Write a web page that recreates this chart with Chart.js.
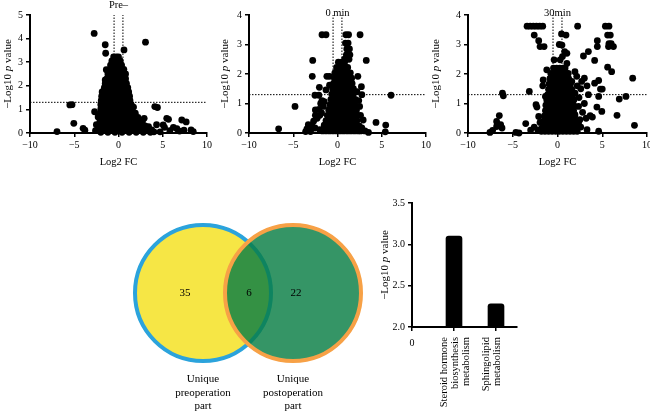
<!DOCTYPE html>
<html>
<head>
<meta charset="utf-8">
<script src="https://cdn.jsdelivr.net/npm/chart.js@4.4.0/dist/chart.umd.min.js"></script>
<style>
  html, body { margin: 0; padding: 0; background: #fff; }
  #fig { position: relative; width: 650px; height: 411px; overflow: hidden; }
  #fig canvas { position: absolute; }
</style>
</head>
<body>
<div id="fig">
  <canvas id="volPre" width="215" height="170" style="left:0;top:0"></canvas>
  <canvas id="vol0" width="220" height="170" style="left:215px;top:0"></canvas>
  <canvas id="vol30" width="230" height="170" style="left:430px;top:0"></canvas>
  <canvas id="venn" width="240" height="211" style="left:130px;top:200px"></canvas>
  <canvas id="bars" width="200" height="221" style="left:360px;top:190px"></canvas>
</div>
<script>
// ---- data ----
const volcanoTitles = ['Pre\u2013', '0 min', '30min'];
const pCutoff = 1.3;
const fcCutoffs = [-0.5, 0.5];

// scattered points, [log2 FC, -log10 p]
const preOutliers = [
  [-2.75,4.22],[3.05,3.85],[-1.5,3.74],[0.62,3.52],[-1.45,3.38],[-1.38,2.68],[-1.0,2.4],[-1.5,2.25],
  [-1.65,1.82],[-1.4,1.82],[-5.5,1.19],[-5.25,1.2],[-5.05,0.41],[-6.95,0.06],[-4.0,0.2],[-3.8,0.12],
  [-2.7,0.9],[-2.3,0.68],[-1.95,0.12],[-2.5,0.35],[-2.6,0.1],[4.1,1.12],[4.4,1.08],[1.7,1.1],
  [2.9,0.62],[5.45,0.62],[5.65,0.58],[7.15,0.55],[7.65,0.47],[5.05,0.34],[5.2,0.24],[6.2,0.24],
  [6.6,0.18],[8.2,0.13],[8.45,0.06],[3.4,0.27],[3.75,0.13],[2.45,0.41],[2.6,0.27],[1.5,0.55],
  [1.85,0.41],[4.0,0.05],[4.7,0.05],[5.8,0.1],[6.9,0.08],[7.4,0.12],[4.3,0.35],[3.1,0.1],
  [2.2,0.15],[1.3,0.8],[1.6,0.3]
];
// dense core, read row by row: [-log10 p, [log2 FC ...]]
const preCore = [
  [3.22, [-0.55,-0.25,0.0]],
  [3.05, [-0.75,-0.4,-0.05,0.2]],
  [2.88, [-0.9,-0.55,-0.2,0.15,0.35]],
  [2.7,  [-1.0,-0.65,-0.3,0.05,0.4,0.6]],
  [2.5,  [-1.2,-0.85,-0.5,-0.15,0.2,0.55,0.8]],
  [2.3,  [-1.3,-0.95,-0.6,-0.25,0.1,0.45,0.8]],
  [2.1,  [-1.5,-1.1,-0.7,-0.3,0.1,0.5,0.9]],
  [1.92, [-1.6,-1.2,-0.8,-0.4,0.0,0.4,0.8,1.05]],
  [1.74, [-1.85,-1.45,-1.05,-0.65,-0.25,0.15,0.55,0.95,1.15]],
  [1.56, [-1.9,-1.5,-1.1,-0.7,-0.3,0.1,0.5,0.9,1.25]],
  [1.38, [-1.95,-1.55,-1.15,-0.75,-0.35,0.05,0.45,0.85,1.3]],
  [1.2,  [-2.0,-1.6,-1.2,-0.8,-0.4,0.0,0.4,0.8,1.2,1.45]],
  [1.02, [-2.0,-1.6,-1.2,-0.8,-0.4,0.0,0.4,0.8,1.2,1.5]],
  [0.84, [-2.05,-1.65,-1.25,-0.85,-0.45,-0.05,0.35,0.75,1.15,1.55,1.9]],
  [0.66, [-2.1,-1.7,-1.3,-0.9,-0.5,-0.1,0.3,0.7,1.1,1.5,1.9,2.2]],
  [0.48, [-2.1,-1.7,-1.3,-0.9,-0.5,-0.1,0.3,0.7,1.1,1.5,1.9,2.3,2.7]],
  [0.3,  [-2.2,-1.8,-1.4,-1.0,-0.6,-0.2,0.2,0.6,1.0,1.4,1.8,2.2,2.6,3.0]],
  [0.12, [-2.3,-1.9,-1.5,-1.1,-0.7,-0.3,0.1,0.5,0.9,1.3,1.7,2.1,2.5,2.9,3.3]],
  [0.03, [-2.0,-1.2,-0.4,0.4,1.2,2.0,2.8,3.6]]
];

const min0Outliers = [
  [-1.75,3.33],[-1.3,3.33],[0.95,3.33],[1.25,3.33],[2.55,3.33],[0.9,3.05],[1.2,3.05],[1.05,2.85],
  [1.35,2.85],[1.0,2.65],[1.4,2.65],[0.8,2.5],[1.3,2.5],[-2.8,2.46],[3.25,2.46],[-2.85,1.92],
  [-1.2,1.92],[-0.9,1.92],[2.3,1.92],[-0.05,2.14],[-2.05,1.55],[2.7,1.57],[-2.55,1.28],[-2.1,1.28],
  [-1.3,1.46],[-0.9,1.62],[2.2,1.4],[-1.75,1.1],[-1.5,1.06],[2.75,1.3],[6.05,1.28],[-4.8,0.9],
  [-2.5,0.78],[-2.1,0.8],[-2.3,0.5],[-2.7,0.4],[-2.5,0.6],[-2.0,0.6],[-1.8,0.68],[-1.6,0.9],
  [-1.9,1.0],[-6.65,0.14],[-3.45,0.14],[-3.05,0.21],[-3.05,0.05],[-3.3,0.28],[-2.9,0.25],[-3.6,0.05],
  [-2.55,0.17],[-2.0,0.11],[-1.5,0.27],[-1.45,0.1],[2.9,0.44],[4.35,0.36],[5.45,0.27],[5.4,0.04],
  [3.5,0.02],[2.75,0.17],[3.1,0.07],[2.6,0.6],[2.5,0.9],[2.4,1.1]
];
const min0Core = [
  [2.4,  [0.1,0.45,0.8]],
  [2.22, [-0.1,0.25,0.6,0.95,1.15]],
  [2.04, [-0.3,0.05,0.4,0.75,1.1,1.45]],
  [1.86, [-0.35,0.0,0.35,0.7,1.05,1.4,1.6]],
  [1.68, [-0.45,-0.1,0.25,0.6,0.95,1.3,1.65]],
  [1.5,  [-0.55,-0.2,0.15,0.5,0.85,1.2,1.55,1.8]],
  [1.32, [-0.65,-0.3,0.05,0.4,0.75,1.1,1.45,1.8]],
  [1.14, [-0.75,-0.4,-0.05,0.3,0.65,1.0,1.35,1.7,2.0]],
  [0.96, [-0.85,-0.5,-0.15,0.2,0.55,0.9,1.25,1.6,1.95]],
  [0.78, [-1.0,-0.6,-0.25,0.1,0.45,0.8,1.15,1.5,1.85,2.15]],
  [0.6,  [-1.15,-0.8,-0.45,-0.1,0.25,0.6,0.95,1.3,1.65,2.0,2.3]],
  [0.42, [-1.3,-0.95,-0.6,-0.25,0.1,0.45,0.8,1.15,1.5,1.85,2.2]],
  [0.24, [-1.5,-1.1,-0.7,-0.3,0.1,0.5,0.9,1.3,1.7,2.1,2.45]],
  [0.07, [-1.7,-1.3,-0.9,-0.5,-0.1,0.3,0.7,1.1,1.5,1.9,2.3,2.6]]
];

const min30Outliers = [
  [-3.4,3.62],[-3.05,3.62],[-2.7,3.62],[-2.35,3.62],[-2.0,3.62],[-1.65,3.62],[2.25,3.62],[5.35,3.62],
  [5.75,3.62],[-2.6,3.32],[-2.1,3.13],[-1.95,2.93],[-1.5,2.93],[0.45,3.36],[0.95,3.32],[0.2,3.0],
  [0.5,2.98],[0.8,2.76],[0.55,2.59],[1.05,2.7],[-0.38,2.48],[0.3,2.48],[1.05,2.36],[0.65,2.16],
  [-1.2,2.14],[-1.6,1.8],[5.6,3.32],[5.9,3.32],[5.75,3.03],[6.0,3.03],[5.7,2.93],[6.25,2.93],
  [4.45,3.13],[4.45,2.93],[3.45,2.76],[2.9,2.61],[4.15,2.46],[5.6,2.23],[6.05,2.08],[8.4,1.86],
  [4.6,1.78],[4.15,1.69],[3.0,1.86],[4.8,1.49],[5.0,1.49],[3.45,1.3],[4.6,1.24],[6.9,1.15],
  [7.65,1.24],[4.4,0.88],[4.95,0.73],[3.65,0.59],[3.9,0.54],[6.65,0.6],[8.6,0.26],[3.3,0.11],
  [4.6,0.06],[2.5,0.45],[2.35,0.34],[1.95,2.08],[2.15,1.92],[1.6,1.75],[1.4,1.52],[1.95,1.35],
  [1.8,1.13],[2.35,0.9],[1.4,0.79],[1.95,0.62],[2.6,1.5],[2.4,1.2],[3.0,1.0],[2.8,0.7],
  [2.0,0.3],[2.6,0.2],[3.2,0.5],[2.7,1.75],[3.3,1.6],[2.2,1.6],[-6.15,1.35],[-6.05,1.26],
  [-6.5,0.59],[-6.8,0.39],[-6.35,0.28],[-6.8,0.22],[-6.2,0.17],[-7.25,0.09],[-7.55,0.02],[-4.65,0.02],
  [-4.3,0.0],[-3.55,0.32],[-3.15,1.41],[-2.4,0.96],[-2.3,0.88],[-2.1,0.56],[-1.95,0.36],[-1.65,1.6],
  [-1.35,1.24],[-2.6,0.2],[-2.2,0.1],[-1.8,0.15],[-3.0,0.1]
];
const min30Core = [
  [2.2,  [-0.45,-0.1,0.25,0.6,0.85]],
  [2.02, [-0.75,-0.4,-0.05,0.3,0.65,1.0,1.2]],
  [1.84, [-0.85,-0.5,-0.15,0.2,0.55,0.9,1.25]],
  [1.66, [-0.95,-0.6,-0.25,0.1,0.45,0.8,1.15,1.45]],
  [1.48, [-1.0,-0.65,-0.3,0.05,0.4,0.75,1.1,1.45,1.6]],
  [1.3,  [-1.1,-0.75,-0.4,-0.05,0.3,0.65,1.0,1.35,1.7]],
  [1.12, [-1.2,-0.85,-0.5,-0.15,0.2,0.55,0.9,1.25,1.6,1.8]],
  [0.94, [-1.3,-0.95,-0.6,-0.25,0.1,0.45,0.8,1.15,1.5,1.8]],
  [0.76, [-1.35,-1.0,-0.65,-0.3,0.05,0.4,0.75,1.1,1.45,1.8]],
  [0.58, [-1.45,-1.1,-0.75,-0.4,-0.05,0.3,0.65,1.0,1.35,1.7,1.9]],
  [0.4,  [-1.55,-1.2,-0.85,-0.5,-0.15,0.2,0.55,0.9,1.25,1.6,1.95]],
  [0.22, [-1.65,-1.3,-0.95,-0.6,-0.25,0.1,0.45,0.8,1.15,1.5,1.85,2.1]],
  [0.06, [-1.8,-1.4,-1.0,-0.6,-0.2,0.2,0.6,1.0,1.4,1.8,2.2]]
];

// Venn
const vennSets = [['Unique', 'preoperation', 'part'], ['Unique', 'postoperation', 'part']];
const vennCounts = [35, 6, 22]; // left only, shared, right only
const vennFills = ['#f6e645', 'rgba(8,126,68,0.82)'];
const vennStrokes = ['#2ba3dc', '#f7a146'];

// pathway bars
const pathwayLabels = [['Steroid hormone', 'biosynthesis', 'metabolism'], ['Sphingolipid', 'metabolism']];
const pathwayValues = [3.10, 2.28];

// ---- drawing ----
const serif = "'Liberation Serif', 'DejaVu Serif', serif";
Chart.defaults.font.family = serif;
Chart.defaults.color = '#000';
Chart.defaults.animation = false;
Chart.defaults.events = [];

const pairsToPoints = pairs => pairs.map(([x, y]) => ({x, y}));
const rowsToPoints = rows => rows.flatMap(([y, xs]) => xs.map(x => ({x, y})));
const minus = v => (v < 0 ? '\u2212' + Math.abs(v) : String(v));

function drawYTitle(ctx, x, y, size) {
    const parts = [
        {t: '\u2212Log10 ', s: 'normal'},
        {t: 'p', s: 'italic'},
        {t: ' value', s: 'normal'}
    ];
    ctx.save();
    ctx.translate(x, y);
    ctx.rotate(-Math.PI / 2);
    let total = 0;
    parts.forEach(p => {
        ctx.font = `${p.s} ${size}px ${serif}`;
        p.w = ctx.measureText(p.t).width;
        total += p.w;
    });
    ctx.textAlign = 'left';
    ctx.textBaseline = 'middle';
    let cx = -total / 2;
    parts.forEach(p => {
        ctx.font = `${p.s} ${size}px ${serif}`;
        ctx.fillText(p.t, cx, 0);
        cx += p.w;
    });
    ctx.restore();
}

// extra text: panel titles, y titles with italic p, venn counts, lone "0"
const figText = {
    id: 'figText',
    afterDraw(chart, args, o) {
        const ctx = chart.ctx;
        const a = chart.chartArea;
        ctx.save();
        ctx.fillStyle = '#000';
        ctx.textAlign = 'center';
        ctx.textBaseline = 'middle';
        if (o.title) {
            ctx.font = `10.5px ${serif}`;
            ctx.fillText(o.title, (a.left + a.right) / 2, o.titleY);
        }
        if (o.yTitleX != null) {
            drawYTitle(ctx, o.yTitleX, (a.top + a.bottom) / 2, 11);
        }
        if (o.counts) {
            const pts = chart.getDatasetMeta(0).data;
            const l = pts[0], r = pts[1];
            ctx.font = `11px ${serif}`;
            ctx.fillText(String(o.counts[0]), l.x - 18, l.y);
            ctx.fillText(String(o.counts[1]), (l.x + r.x) / 2 + 1, l.y);
            ctx.fillText(String(o.counts[2]), r.x + 3, l.y);
        }
        if (o.zeroLabel) {
            ctx.font = `10px ${serif}`;
            ctx.fillText('0', chart.scales.x.getPixelForValue(0), a.bottom + 16);
        }
        ctx.restore();
    }
};

const axisGrid = {drawOnChartArea: false, drawTicks: true, tickLength: 4, color: '#000', lineWidth: 1.5};
const axisBorder = {color: '#000', width: 2};

function volcano(id, cfg) {
    const dotted = {
        type: 'line', borderColor: '#000', borderWidth: 1, borderDash: [1.5, 1.5],
        pointRadius: 0, order: 2, clip: false
    };
    return new Chart(document.getElementById(id), {
        type: 'scatter',
        data: {
            datasets: [
                {data: cfg.points, backgroundColor: '#000', borderWidth: 0, pointRadius: 3.4, clip: false, order: 1},
                {...dotted, data: [{x: -10, y: pCutoff}, {x: 10, y: pCutoff}]},
                {...dotted, data: [{x: fcCutoffs[0], y: 0}, {x: fcCutoffs[0], y: cfg.yMax}]},
                {...dotted, data: [{x: fcCutoffs[1], y: 0}, {x: fcCutoffs[1], y: cfg.yMax}]}
            ]
        },
        options: {
            responsive: false,
            layout: {autoPadding: false, padding: {left: 0, right: cfg.padRight, top: 15, bottom: 0}},
            plugins: {
                legend: {display: false},
                tooltip: {enabled: false},
                figText: {title: cfg.title, titleY: cfg.titleY, yTitleX: cfg.yTitleX}
            },
            scales: {
                x: {
                    type: 'linear', min: -10, max: 10,
                    ticks: {stepSize: 5, callback: minus, font: {size: 10}, padding: 2, maxRotation: 0},
                    grid: axisGrid, border: axisBorder,
                    title: {display: true, text: 'Log2 FC', font: {size: 10.5}, padding: {top: 0, bottom: 1}},
                    afterFit(s) { s.height = 37; }
                },
                y: {
                    type: 'linear', min: 0, max: cfg.yMax,
                    ticks: {stepSize: 1, font: {size: 10}, padding: 3},
                    grid: axisGrid, border: axisBorder,
                    afterFit(s) { s.width = cfg.yWidth; }
                }
            }
        },
        plugins: [figText]
    });
}

volcano('volPre', {
    title: volcanoTitles[0], titleY: 5, yTitleX: 8, yMax: 5, yWidth: 30, padRight: 8,
    points: pairsToPoints(preOutliers).concat(rowsToPoints(preCore))
});
volcano('vol0', {
    title: volcanoTitles[1], titleY: 13, yTitleX: 10, yMax: 4, yWidth: 34, padRight: 9,
    points: pairsToPoints(min0Outliers).concat(rowsToPoints(min0Core))
});
volcano('vol30', {
    title: volcanoTitles[2], titleY: 13, yTitleX: 6, yMax: 4, yWidth: 38, padRight: 13,
    points: pairsToPoints(min30Outliers).concat(rowsToPoints(min30Core))
});

// Venn diagram: two set circles on a category axis, labels are the axis ticks
new Chart(document.getElementById('venn'), {
    type: 'line',
    data: {
        labels: vennSets,
        datasets: [{
            data: vennSets.map(() => 1),
            showLine: false,
            pointRadius: 68,
            pointBackgroundColor: vennFills,
            pointBorderColor: vennStrokes,
            pointBorderWidth: 4,
            clip: false
        }]
    },
    options: {
        responsive: false,
        layout: {autoPadding: false, padding: {left: 28, right: 32, top: 20, bottom: 0}},
        plugins: {
            legend: {display: false},
            tooltip: {enabled: false},
            figText: {counts: vennCounts}
        },
        scales: {
            x: {
                offset: true,
                grid: {display: false},
                border: {display: false},
                ticks: {font: {size: 11, lineHeight: 1.2}, padding: -1, maxRotation: 0},
                afterFit(s) { s.height = 45; }
            },
            y: {display: false, min: 0, max: 2}
        }
    },
    plugins: [figText]
});

// pathway enrichment bars
new Chart(document.getElementById('bars'), {
    type: 'bar',
    data: {
        datasets: [{
            data: pathwayValues.map((y, i) => ({x: i + 1, y})),
            backgroundColor: '#000',
            barThickness: 16,
            borderRadius: 3
        }]
    },
    options: {
        responsive: false,
        layout: {autoPadding: false, padding: {left: 0, right: 43, top: 13, bottom: 0}},
        plugins: {
            legend: {display: false},
            tooltip: {enabled: false},
            figText: {yTitleX: 25, zeroLabel: true}
        },
        scales: {
            x: {
                type: 'linear', min: 0, max: 2.5, offset: false,
                ticks: {
                    stepSize: 1, includeBounds: false, autoSkip: false,
                    minRotation: 90, maxRotation: 90, labelOffset: -10, padding: 6,
                    font: {size: 10.5, lineHeight: 1.05},
                    callback: v => (v === 0 ? '' : pathwayLabels[v - 1])
                },
                grid: {...axisGrid, offset: false}, border: axisBorder,
                afterFit(s) { s.height = 84; }
            },
            y: {
                min: 2, max: 3.5,
                ticks: {stepSize: 0.5, font: {size: 10}, padding: 3, callback: v => v.toFixed(1)},
                grid: axisGrid, border: axisBorder,
                afterFit(s) { s.width = 52; }
            }
        }
    },
    plugins: [figText]
});
</script>
</body>
</html>
